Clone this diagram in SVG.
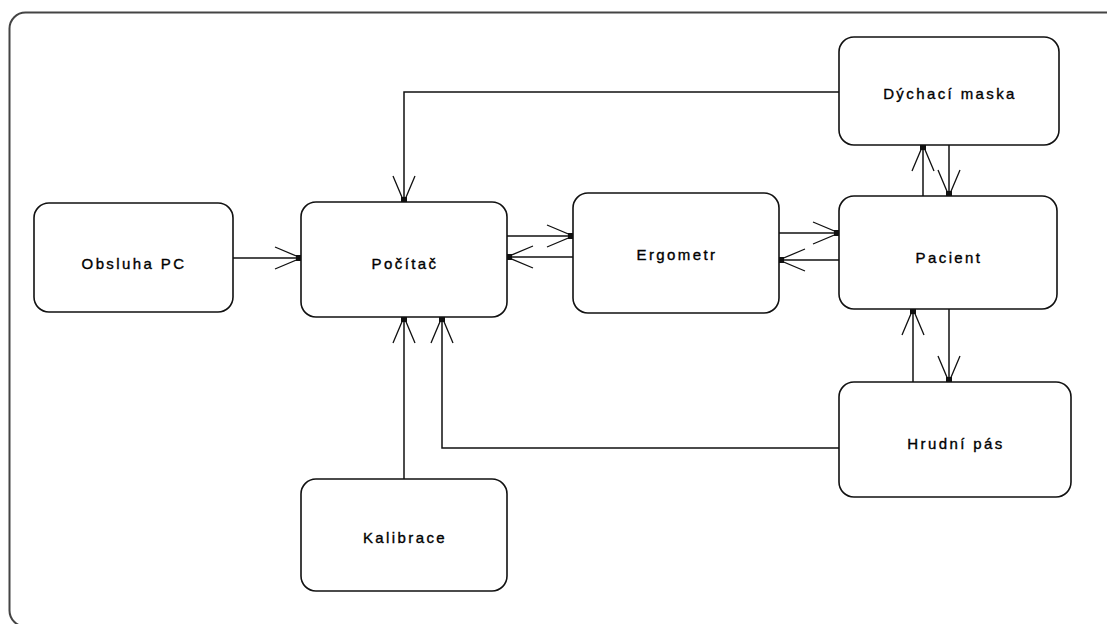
<svg xmlns="http://www.w3.org/2000/svg" width="1107" height="624" viewBox="0 0 1107 624">
<style>
.box{fill:#fff;stroke:#111;stroke-width:1.6}
.lbl{font-family:"Liberation Sans",Arial,sans-serif;font-size:15px;fill:#000;stroke:#000;stroke-width:0.35;text-anchor:middle;letter-spacing:2.4px}
.conn{fill:none;stroke:#111;stroke-width:1.5}
</style>
<defs>
<marker id="arr" markerUnits="userSpaceOnUse" markerWidth="32" markerHeight="28" refX="27" refY="12" orient="auto" overflow="visible">
<path d="M1,1 L27,12 L1,23" fill="none" stroke="#111" stroke-width="1.3"/>
<rect x="22" y="9" width="6" height="6" fill="#111"/>
</marker>
</defs>
<rect x="9.5" y="12.5" width="1130" height="614" rx="16" fill="#fff" stroke="#444" stroke-width="2"/>
<g id="connectors">
<path class="conn" d="M233,258 H301" marker-end="url(#arr)"/>
<path class="conn" d="M507,236 H573" marker-end="url(#arr)"/>
<path class="conn" d="M573,257 H507" marker-end="url(#arr)"/>
<path class="conn" d="M779,233 H839" marker-end="url(#arr)"/>
<path class="conn" d="M839,260 H779" marker-end="url(#arr)"/>
<path class="conn" d="M839,92 H404 V202" marker-end="url(#arr)"/>
<path class="conn" d="M404,479 V317" marker-end="url(#arr)"/>
<path class="conn" d="M839,448 H442 V317" marker-end="url(#arr)"/>
<path class="conn" d="M923,196 V145" marker-end="url(#arr)"/>
<path class="conn" d="M949,145 V196" marker-end="url(#arr)"/>
<path class="conn" d="M913,382 V309" marker-end="url(#arr)"/>
<path class="conn" d="M949,309 V382" marker-end="url(#arr)"/>
</g>
<g id="obsluha">
<rect class="box" x="34" y="203" width="199" height="109" rx="15"/>
<text class="lbl" x="134" y="269">Obsluha PC</text>
</g>
<g id="pocitac">
<rect class="box" x="301" y="202" width="206" height="115" rx="15"/>
<text class="lbl" x="405" y="269">Počítač</text>
</g>
<g id="ergometr">
<rect class="box" x="573" y="193" width="206" height="120" rx="15"/>
<text class="lbl" x="677" y="260">Ergometr</text>
</g>
<g id="maska">
<rect class="box" x="839" y="37" width="220" height="108" rx="15"/>
<text class="lbl" x="950" y="99">Dýchací maska</text>
</g>
<g id="pacient">
<rect class="box" x="839" y="196" width="218" height="113" rx="15"/>
<text class="lbl" x="949" y="263">Pacient</text>
</g>
<g id="hrudni">
<rect class="box" x="839" y="382" width="232" height="115" rx="15"/>
<text class="lbl" x="956" y="449">Hrudní pás</text>
</g>
<g id="kalibrace">
<rect class="box" x="301" y="479" width="206" height="112" rx="15"/>
<text class="lbl" x="405" y="543">Kalibrace</text>
</g>
</svg>
